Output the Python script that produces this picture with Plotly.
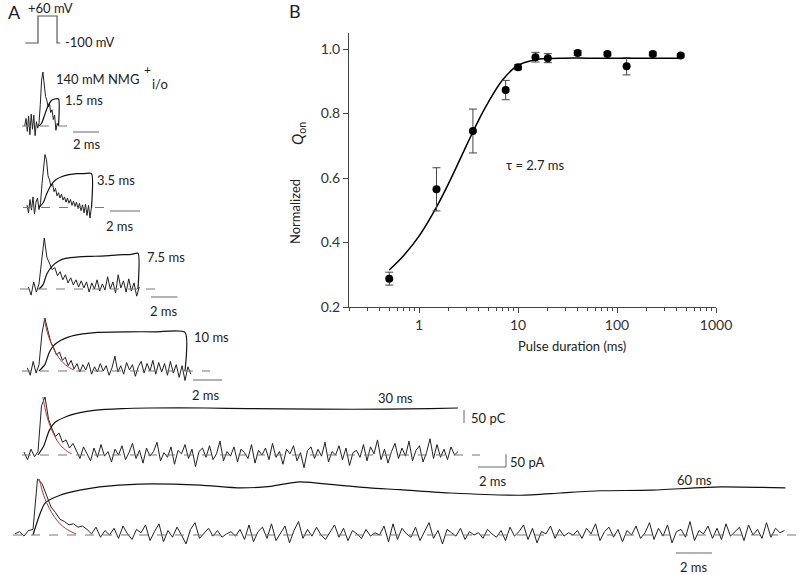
import numpy as np
import plotly.graph_objects as go

W, H = 800, 575
FONT = "Lato"

# ---------------- Panel B data ----------------
pulse_ms = [0.5, 1.5, 3.5, 7.5, 10, 15, 20, 40, 80, 125, 230, 440]
q_on = [0.288, 0.565, 0.746, 0.873, 0.944, 0.975, 0.972, 0.988, 0.985, 0.947, 0.985, 0.980]
q_err = [0.02, 0.067, 0.068, 0.03, 0.008, 0.015, 0.014, 0.008, 0.006, 0.027, 0.006, 0.005]
fit_ms = [0.5, 0.7, 1.0, 1.5, 2.0, 3.0, 4.0, 5.0, 7.0, 10, 15, 20, 30, 50, 100, 440]
fit_q = [0.315, 0.36, 0.42, 0.51, 0.585, 0.70, 0.78, 0.835, 0.905, 0.95, 0.967, 0.971, 0.972, 0.972, 0.972, 0.972]
tau_label = "τ = 2.7 ms"

# ---------------- Panel A data (current in % of peak, charge in same units) ----------------
durations = ["1.5 ms", "3.5 ms", "7.5 ms", "10 ms", "30 ms", "60 ms"]
t_start = [-1.1, -0.8, -0.8, -0.8, -1.0, -1.0]
dt = [0.1, 0.1, 0.2, 0.2, 0.25, 0.25]

current_1 = [0, 14, -10, 18, -16, 22, -6, 20, -18, 8, -4,
             5, 40, 85, 100, 75, 55, 48, 35, 42, 25, 30, 12, 20, -8, 5, 0]
current_2 = [5, -10, 15, -5, 20, -12, 10, 18,
             -4, 8, 45, 80, 100, 90, 60, 52, 40, 45, 30, 36, 22, 28, 18, 25, 14, 20,
             10, 18, 8, 15, 4, 12, 2, 10, -2, 8, -6, 5, -10, 6, -15, 4, -20, 2]
current_3 = [4, -12, 14, -6,
             10, 60, 100, 62, 48, 38, 42, 26, 34, 18, 28, 12, 22, 8, 18, 4, 16, 2, 14, -6,
             12, 0, 18, -4, 10, -2, 24, 0, 14, -8, 28, 2, 16, -6, 20, -4, 12, -14, 4]
current_4 = [6, -8, 18, -4,
             12, 70, 100, 75, 55, 44, 30, 36, 20, 26, 10, 20, 4, 14, -2, 12, 2, 16, -6, 8,
             -2, 14, 0, 10, -8, 6, 28, -2, 10, -6, 16, 2, 12, -10, 8, 18, -4, 14, 0, 20,
             -6, 16, -2, 14, -8, 18, -4, 12, -12, 10, -18, 8, -6]
current_5 = [5, -8, 10, -3,
             6, 85, 100, 62, 45, 32, 38, 22, 26, 12, 20,
             8, -6, 14, 2, -10, 12, -4, 18, -2, 6, -12, 10, 0, 16, -8, 4, 20, -6, 8, -14,
             12, -2, 6, 22, -10, 4, -4, 14, -16, 8, 2, 18, -6, 10, -20, 6, 12, -4, 16, -8,
             2, 24, -10, 6, -2, 14, -12, 10, 4, -6, 18, -14, 8, 0, 12, -8, 20, -4, 6, -16,
             10, 2, 16, -10, 4, -22, 8, 14, -6, 10, -2, 22, -12, 6, 0, 16, -8, 12, -18, 4,
             8, -4, 18, -10, 14, 2, 26, -8, 10, -14, 6, 20, -6, 12, -2, 24, -10, 8, 16, -12,
             4, 28, -6, 18, -4, 10, -8, 14, 0, 6]
current_6 = [2, 6, -2, 8,
             10, 100, 92, 70, 50, 40, 28, 24, 18, 20, 14, 16,
             10, 2, 14, -4, 8, 0, 12, -6, 16, 2, -8, 10, 4, 18, -10, 6, 20, -12, 8, -4,
             14, 0, -16, 10, 22, -6, 4, 12, -2, 8, -4, 2, 6, -2, 10, -8, 18, -12, 6, 14,
             -6, 20, -10, 4, 16, -14, 8, 24, -6, 10, -2, 14, 0, -8, 6, 18, -4, 12, -10, 8,
             2, -6, 10, -2, 4, 0, 16, -12, 20, -8, 12, 2, -4, 14, -10, 6, 22, -6, 8, -16,
             10, 4, -2, 12, -8, 6, 0, 4, -6, 10, 2, -4, 8, -10, 14, -2, 6, 18, -8, 12,
             -14, 6, 2, 16, -6, 10, -2, 4, 0, 8, -6, 12, 2, 20, -10, 6, 14, -4, 10, -12,
             8, 0, 16, -6, 4, 22, -8, 12, -2, 18, -14, 6, 10, -4, 24, -10, 8, 2, 16, -6,
             12, -8, 20, -2, 6, 14, -10, 18, 0, 10, -6, 22, -4, 12, 4, 8]
currents = [current_1, current_2, current_3, current_4, current_5, current_6]

charge_t_1 = [0, 0.2, 0.4, 0.6, 0.8, 1.0, 1.2, 1.5, 1.5]
charge_q_1 = [0, 5, 18, 32, 42, 48, 50, 50, 0]
charge_t_2 = [0, 0.3, 0.5, 0.8, 1.1, 1.5, 2.0, 2.5, 3.0, 3.5, 3.5]
charge_q_2 = [0, 10, 25, 42, 52, 58, 62, 64, 64, 64, 0]
charge_t_3 = [0, 0.3, 0.6, 1.0, 1.5, 2.0, 3.0, 4.0, 5.0, 6.0, 7.0, 7.5, 7.5]
charge_q_3 = [0, 8, 30, 45, 55, 60, 63, 64, 65, 67, 68, 70, 0]
charge_t_4 = [0, 0.4, 0.7, 1.0, 1.5, 2.0, 3.0, 4.0, 6.0, 8.0, 10.0, 10.0]
charge_q_4 = [0, 12, 35, 48, 58, 64, 70, 73, 74, 74, 73, 0]
charge_t_5 = [0, 0.4, 0.8, 1.2, 2, 3, 4, 6, 8, 12, 15, 20, 25, 28, 30]
charge_q_5 = [0, 15, 42, 56, 66, 73, 77, 80, 81, 81, 80, 79, 79, 80, 81]
charge_t_6 = [0, 0.67, 1.5, 2.6, 3.7, 5.9, 9.3, 11.5, 13.2, 14.8, 17, 18.7, 20.4,
              23.2, 27.1, 29.3, 31.5, 34.3, 38.2, 41.8]
charge_q_6 = [0, 57, 71, 80, 86, 91, 89, 84, 87, 95, 89, 84, 81, 75, 71, 75, 79, 80, 86, 84]
charge_t = [charge_t_1, charge_t_2, charge_t_3, charge_t_4, charge_t_5, charge_t_6]
charge_q = [charge_q_1, charge_q_2, charge_q_3, charge_q_4, charge_q_5, charge_q_6]

# exponential decay fits drawn in red (rows 4-6)
decay_t = [0.35, 0.6, 0.9, 1.2, 1.5, 1.8, 2.1, 2.4]
decay_i = [100, 70, 48, 32, 20, 12, 6, 2]

# voltage protocol
prot_t = [-1.0, 0.0, 0.0, 1.5, 1.5, 1.75]
prot_v = [-100, -100, 60, 60, -100, -100]

# ---------------- layout helpers (pixel placement of each row) ----------------
# x0: pixel of t=0, s: px per ms, b: pixel of baseline, h: px per 100 units
rows = [
    dict(x0=39, s=13.0, b=126, h=54),
    dict(x0=39, s=15.0, b=207.5, h=53),
    dict(x0=39, s=13.2, b=289, h=51),
    dict(x0=39, s=14.6, b=371, h=53),
    dict(x0=38, s=14.0, b=455, h=58),
    dict(x0=33, s=18.0, b=535, h=56),
]
base_px = [(22, 75), (23, 107), (20, 157), (22, 210), (22, 480), (13, 800)]


def px2t(r, px):
    return (px - r["x0"]) / r["s"]


def py2v(r, py):
    return (r["b"] - py) / r["h"] * 100


def px(x):
    return x / W


def py(y):
    return 1 - y / H


fig = go.Figure()
layout = dict(
    width=W, height=H, margin=dict(l=0, r=0, t=0, b=0, pad=0, autoexpand=False),
    paper_bgcolor="white", plot_bgcolor="rgba(0,0,0,0)",
    showlegend=False, font=dict(family=FONT, size=13, color="#222"),
)

# Panel B axes
layout["xaxis"] = dict(
    type="log", domain=[px(349), px(716)], range=[np.log10(0.196), 3], automargin=False,
    showgrid=False, zeroline=False, showline=True, linecolor="#444", linewidth=1,
    ticks="outside", ticklen=5, tickcolor="#444",
    tickvals=[1, 10, 100, 1000], ticktext=["1", "10", "100", "1000"],
    minor=dict(ticks="outside", ticklen=3, tickcolor="#444",
               tickvals=[0.2, 0.3, 0.4, 0.5, 0.6, 0.7, 0.8, 0.9,
                         2, 3, 4, 5, 6, 7, 8, 9, 20, 30, 40, 50, 60, 70, 80, 90,
                         200, 300, 400, 500, 600, 700, 800, 900]),
    tickfont=dict(family=FONT, size=14, color="#333"), anchor="y",
)
layout["yaxis"] = dict(
    domain=[py(307), py(33)], range=[0.2, 1.05], automargin=False,
    showgrid=False, zeroline=False, showline=True, linecolor="#444", linewidth=1,
    ticks="outside", ticklen=5, tickcolor="#444",
    tickvals=[0.2, 0.4, 0.6, 0.8, 1.0], ticktext=["0.2", "0.4", "0.6", "0.8", "1.0"],
    tickfont=dict(family=FONT, size=14, color="#333"), anchor="x",
)

fig.add_trace(go.Scatter(x=fit_ms, y=fit_q, mode="lines", line=dict(color="black", width=1.5, shape="spline"),
                         xaxis="x", yaxis="y"))
fig.add_trace(go.Scatter(x=pulse_ms, y=q_on, mode="markers",
                         marker=dict(color="black", size=8),
                         error_y=dict(type="data", array=q_err, color="#444", thickness=1, width=4),
                         xaxis="x", yaxis="y"))

shapes = []
annotations = []

# Panel A rows
for i, r in enumerate(rows):
    k = i + 2
    xa, ya = f"xaxis{k}", f"yaxis{k}"
    layout[xa] = dict(domain=[0, 1], range=[px2t(r, 0), px2t(r, W)], visible=False,
                      automargin=False, anchor=f"y{k}")
    layout[ya] = dict(domain=[0, 1], range=[py2v(r, H), py2v(r, 0)], visible=False,
                      automargin=False, anchor=f"x{k}")
    cur = currents[i]
    t = t_start[i] + dt[i] * np.arange(len(cur))
    shapes.append(dict(type="line", xref=f"x{k}", yref=f"y{k}",
                       x0=px2t(r, base_px[i][0]), x1=px2t(r, base_px[i][1]), y0=0, y1=0,
                       line=dict(color="#777", width=1, dash="dash")))
    fig.add_trace(go.Scatter(x=t, y=cur, mode="lines", line=dict(color="#222", width=1),
                             xaxis=f"x{k}", yaxis=f"y{k}"))
    fig.add_trace(go.Scatter(x=charge_t[i], y=charge_q[i], mode="lines",
                             line=dict(color="#111", width=1.2, shape="spline", smoothing=0.6),
                             xaxis=f"x{k}", yaxis=f"y{k}"))
    if i >= 3:
        fig.add_trace(go.Scatter(x=decay_t, y=decay_i, mode="lines",
                                 line=dict(color="#b03a2e", width=1, shape="spline"),
                                 xaxis=f"x{k}", yaxis=f"y{k}"))

# voltage protocol (own axes)
layout["xaxis8"] = dict(domain=[0, 1], range=[(0 - 38) / 12.7, (W - 38) / 12.7], visible=False,
                        automargin=False, anchor="y8")
layout["yaxis8"] = dict(domain=[0, 1], range=[-100 - (H - 43) / 27 * 160, -100 + 43 / 27 * 160],
                        visible=False, automargin=False, anchor="x8")
fig.add_trace(go.Scatter(x=prot_t, y=prot_v, mode="lines", line=dict(color="#555", width=1.2),
                         xaxis="x8", yaxis="y8"))

# scale bars: (row, x-start px, y px) for 2 ms bars
bar_specs = [(0, 73, 132), (1, 110, 211), (2, 151, 297), (3, 193, 380), (4, 478, 467), (5, 676, 553)]
for i, xs, yy in bar_specs:
    r = rows[i]
    k = i + 2
    t0 = px2t(r, xs)
    v = py2v(r, yy)
    shapes.append(dict(type="line", xref=f"x{k}", yref=f"y{k}", x0=t0, x1=t0 + 2, y0=v, y1=v,
                       line=dict(color="#666", width=1)))
r5 = rows[4]
t_end = px2t(r5, 478) + 2
shapes.append(dict(type="line", xref="x6", yref="y6", x0=t_end, x1=t_end,
                   y0=py2v(r5, 467), y1=py2v(r5, 467) + 22, line=dict(color="#666", width=1)))
shapes.append(dict(type="line", xref="x6", yref="y6", x0=px2t(r5, 464), x1=px2t(r5, 464),
                   y0=py2v(r5, 423), y1=py2v(r5, 410), line=dict(color="#666", width=1)))


def txt(x, y, s, size=13, **kw):
    annotations.append(dict(x=px(x), y=py(y), xref="paper", yref="paper", text=s, showarrow=False,
                            xanchor="center", yanchor="middle",
                            font=dict(family=FONT, size=size, color="#222"), **kw))


txt(14, 12, "A", size=18)
txt(295, 11, "B", size=18)
txt(50, 8, "+60 mV")
txt(90, 42, "-100 mV")
txt(97, 79, "140 mM NMG")
txt(147, 70, "+", size=12)
txt(160, 84, "i/o", size=13)
label_pos = [(84, 100), (116, 180), (166, 257), (211, 337), (395, 398), (694, 480)]
for (x, y), s in zip(label_pos, durations):
    txt(x, y, s)
for x, y in [(87, 144), (120, 226), (164, 311), (206, 395), (493, 481), (694, 567)]:
    txt(x, y, "2 ms")
txt(489, 418, "50 pC")
txt(527, 462, "50 pA")
txt(535, 165, tau_label)
txt(572, 346, "Pulse duration (ms)")
txt(295, 212, "Normalized", textangle=-90)
txt(298, 134, "<i>Q</i><sub>on</sub>", size=15, textangle=-90)

layout["shapes"] = shapes
layout["annotations"] = annotations
fig.update_layout(**layout)
fig.write_html("out.html", config={"displayModeBar": False},
               post_script="document.body.style.margin='0';")
